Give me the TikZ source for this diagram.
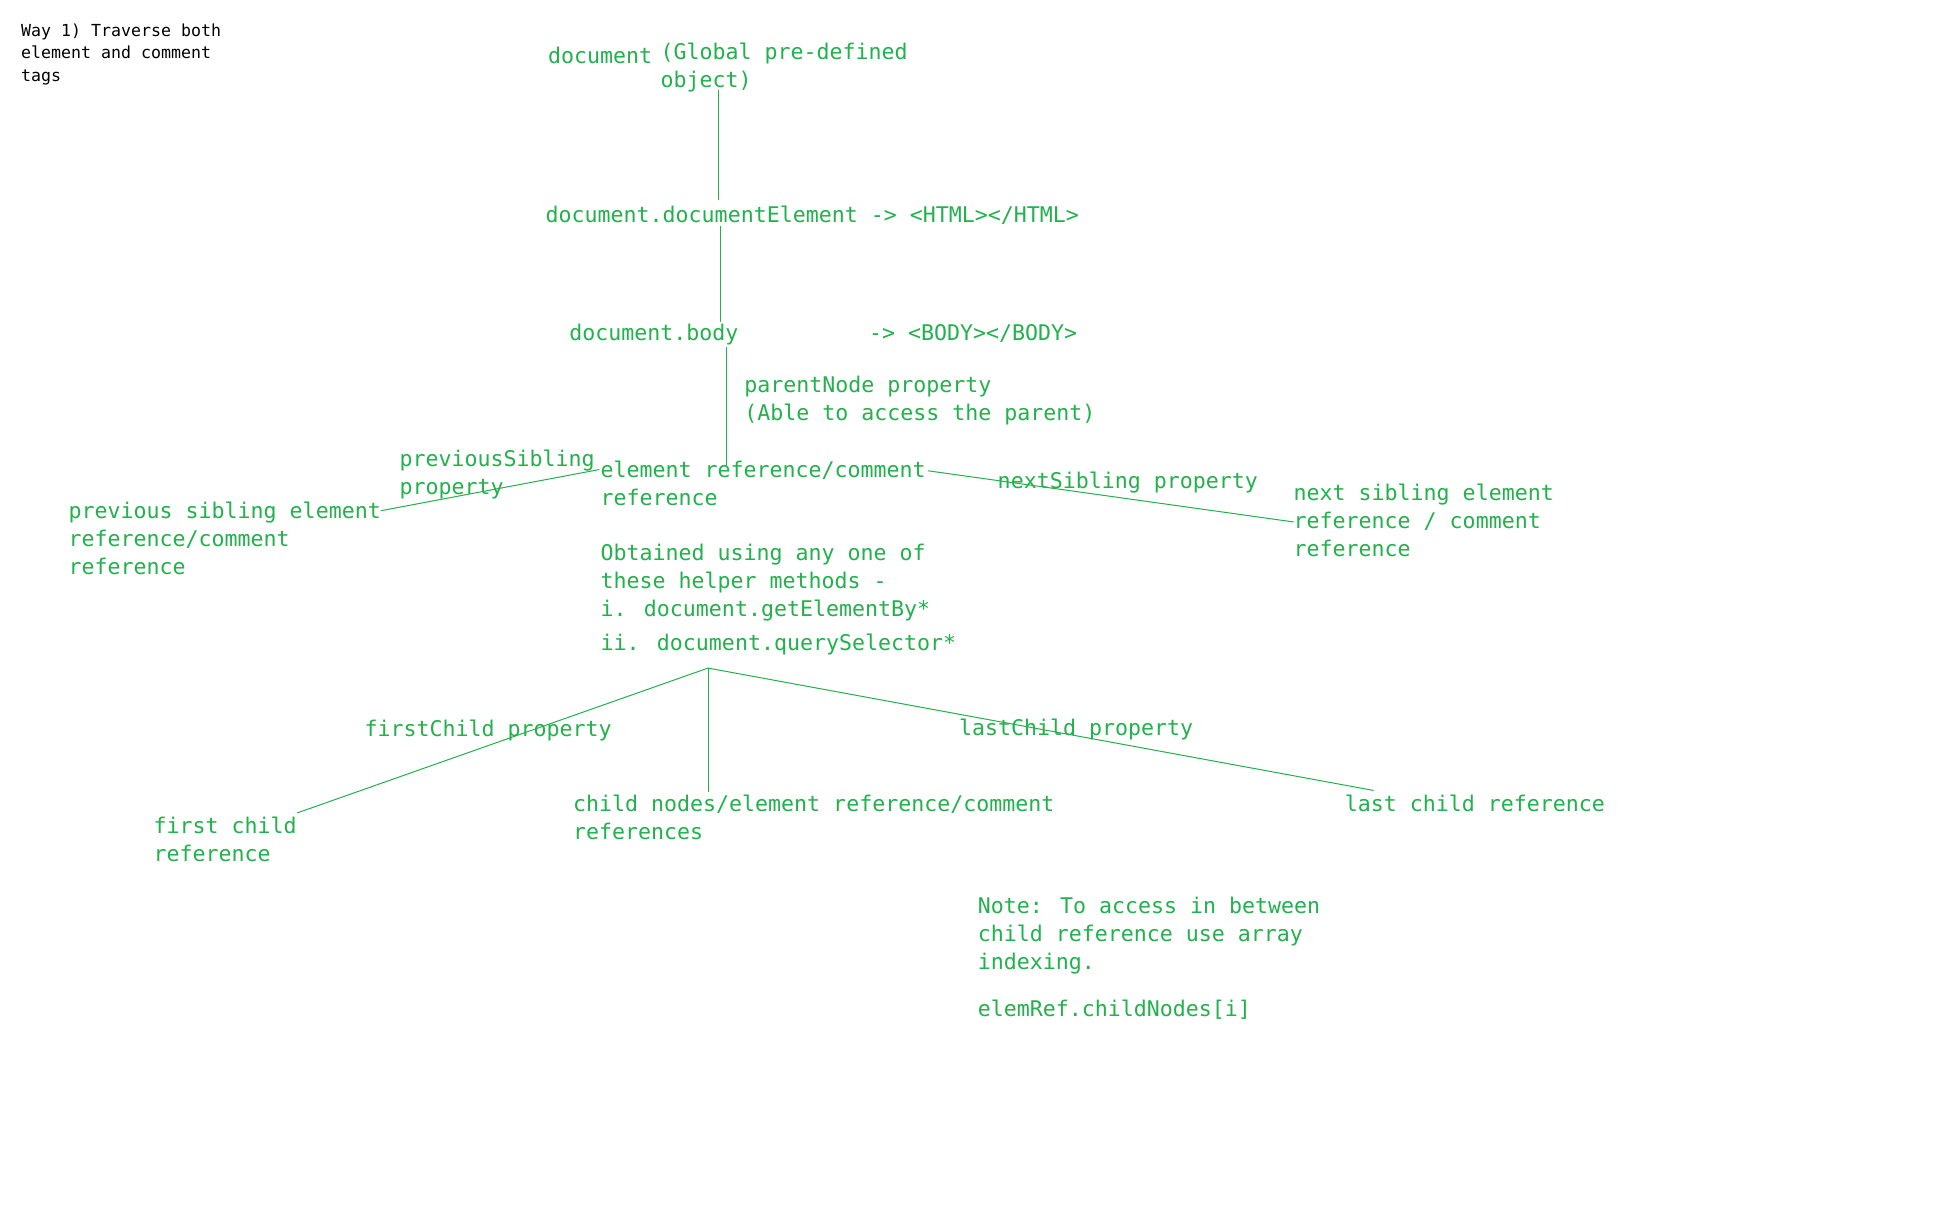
\documentclass[tikz,border=0pt]{standalone}
\usepackage{fontspec}
\newfontfamily\dmono{DejaVu Sans Mono}
\definecolor{pgreen}{RGB}{34,177,76}
\begin{document}
\begin{tikzpicture}[x=0.62435pt,y=-0.62435pt,
  lbl/.style={anchor=base west, inner sep=0pt, outer sep=0pt, text=pgreen,
              font=\dmono\fontsize{10.8}{14}\selectfont, align=left},
  conn/.style={draw=pgreen, line width=0.5pt}]
\useasboundingbox[fill=white] (0,0) rectangle (1568,967);

% multi-line nodes: the base anchor is the baseline of the last line
\node[lbl, text=black, font=\dmono\fontsize{8.3}{11.2}\selectfont] (way) at (17,65) {Way 1) Traverse both\\element and comment\\tags};

\node[lbl] (doc) at (439,51) {document};
\node[lbl] (docdesc) at (529,70) {(Global pre-defined\\object)};
\node[lbl] (docel) at (437,178) {document.documentElement -> <HTML></HTML>};
\node[lbl] (body) at (456,273) {document.body};
\node[lbl] (bodytag) at (696,273) {-> <BODY></BODY>};
\node[lbl] (parent) at (596,337) {parentNode property\\(Able to access the parent)};
\node[lbl] (prevprop) at (320,396) {previousSibling\\property};
\node[lbl] (elem) at (481,405) {element reference/comment\\reference};
\node[lbl] (obtained) at (481,494) {Obtained using any one of\\these helper methods -\\i. document.getElementBy*};
\node[lbl] (qs) at (481,521) {ii. document.querySelector*};
\node[lbl] (prev) at (55,460) {previous sibling element\\reference/comment\\reference};
\node[lbl] (nextprop) at (799,391) {nextSibling property};
\node[lbl] (next) at (1036,446) {next sibling element\\reference / comment\\reference};
\node[lbl] (fcprop) at (292,590) {firstChild property};
\node[lbl] (lcprop) at (768,589) {lastChild property};
\node[lbl] (fc) at (123,690) {first child\\reference};
\node[lbl] (cn) at (459,672) {child nodes/element reference/comment\\references};
\node[lbl] (lc) at (1077,650) {last child reference};
\node[lbl] (note) at (783,776) {Note: To access in between\\child reference use array\\indexing.};
\node[lbl] (idx) at (783,814) {elemRef.childNodes[i]};

\coordinate (docbot) at (575,72);
\coordinate (deltop) at (575,160);
\coordinate (delbot) at (577,181);
\coordinate (bodytop) at (577,258);
\coordinate (bodybot) at (582,278);
\coordinate (elemtop) at (582,373);
\coordinate (prevend) at (305,409);
\coordinate (elemleft) at (480,376);
\coordinate (elemright) at (743,377);
\coordinate (nextend) at (1036,418);
\coordinate (apex) at (567,535);
\coordinate (fcend) at (238,651);
\coordinate (cnend) at (567,634);
\coordinate (lcend) at (1100,633);

\draw[conn] (docbot) -- (deltop);
\draw[conn] (delbot) -- (bodytop);
\draw[conn] (bodybot) -- (elemtop);
\draw[conn] (prevend) -- (elemleft);
\draw[conn] (elemright) -- (nextend);
\draw[conn] (apex) -- (fcend);
\draw[conn] (apex) -- (cnend);
\draw[conn] (apex) -- (lcend);
\end{tikzpicture}
\end{document}
